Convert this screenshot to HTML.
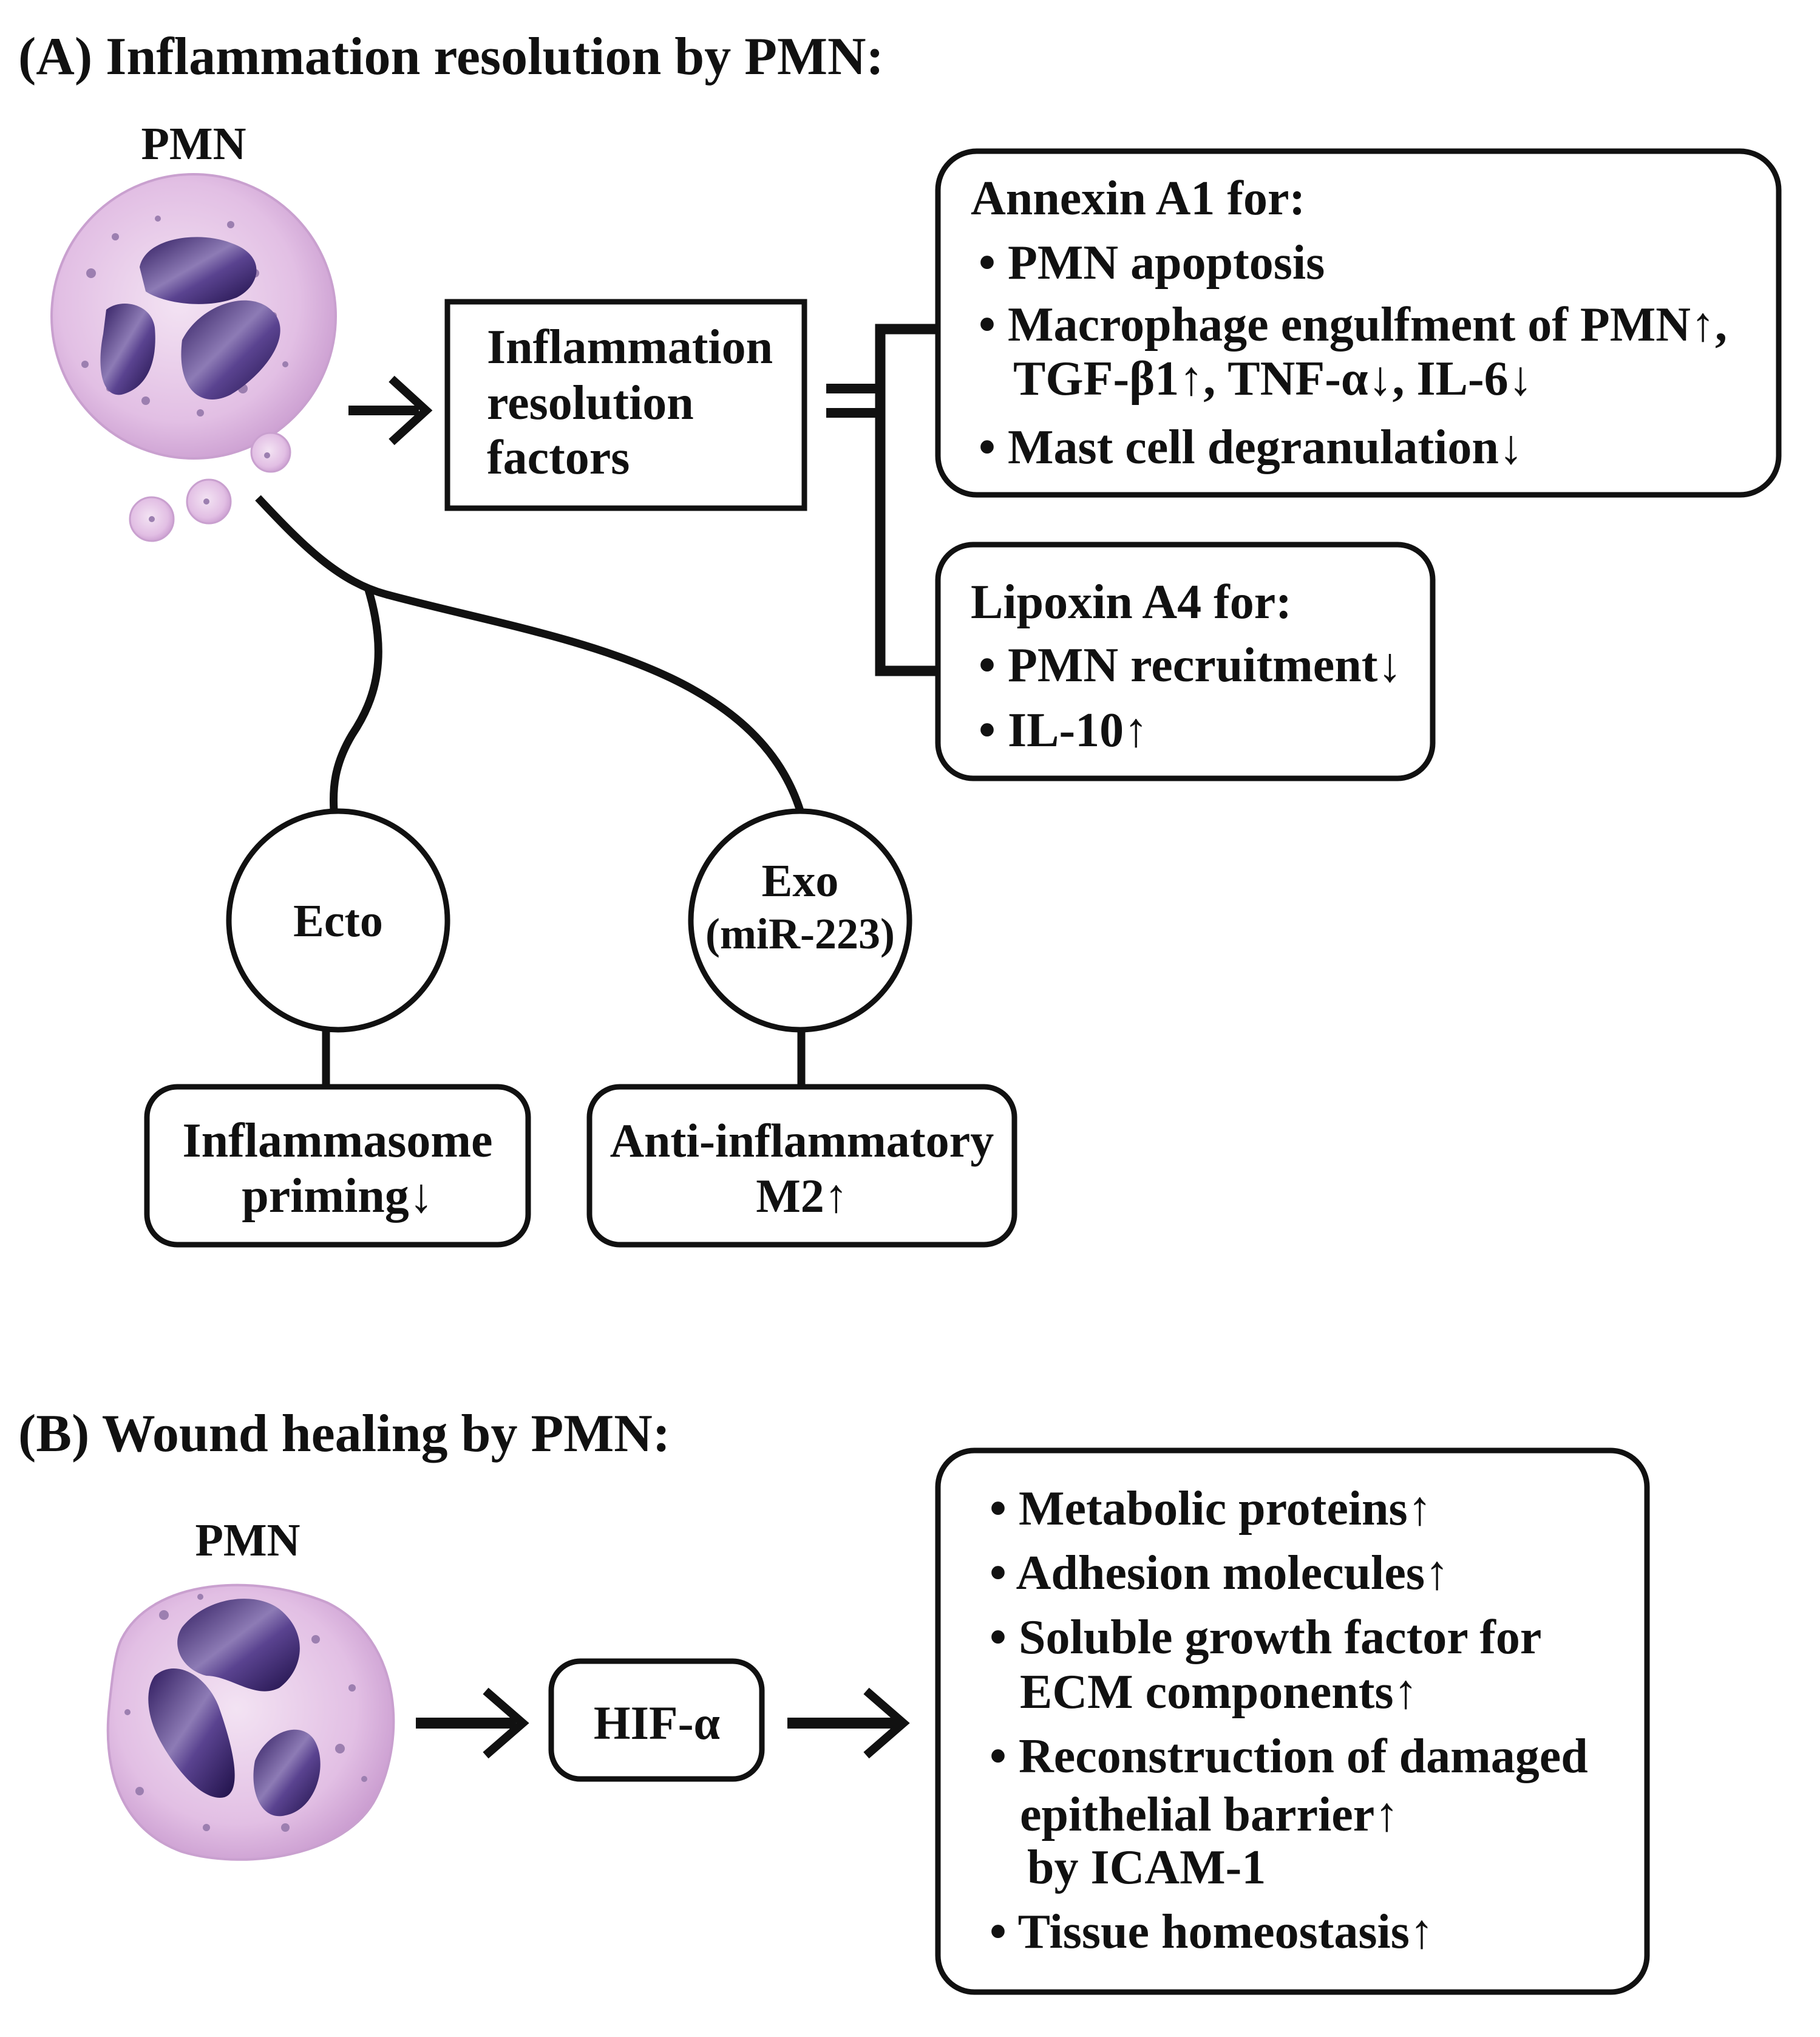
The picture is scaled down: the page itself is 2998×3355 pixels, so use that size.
<!DOCTYPE html>
<html><head><meta charset="utf-8"><style>
html,body{margin:0;padding:0;background:#fff}
svg{display:block}
text{font-family:"Liberation Serif","DejaVu Serif",serif;font-weight:bold;fill:#111}
</style></head><body>
<svg width="2998" height="3355" viewBox="0 0 2998 3355" xmlns="http://www.w3.org/2000/svg">
<defs>
<radialGradient id="cyt" cx="0.45" cy="0.45" r="0.6"><stop offset="0" stop-color="#f3e3f3"/><stop offset="0.7" stop-color="#e2bfe4"/><stop offset="1" stop-color="#c99bcf"/></radialGradient>
<linearGradient id="nuc" x1="0" y1="0" x2="1" y2="1"><stop offset="0" stop-color="#2e1a5e"/><stop offset="0.45" stop-color="#8d7bb5"/><stop offset="0.6" stop-color="#5a4390"/><stop offset="1" stop-color="#1f1048"/></linearGradient>
</defs>
<rect width="2998" height="3355" fill="#fff"/>

<text x="30" y="122" font-size="88">(A) Inflammation resolution by PMN:</text>
<text x="30" y="2390" font-size="88">(B) Wound healing by PMN:</text>

<text x="319" y="262" font-size="76" text-anchor="middle">PMN</text>
<ellipse cx="319" cy="521" rx="234" ry="234" fill="url(#cyt)" stroke="#c9a0cf" stroke-width="4"/>
<circle cx="446" cy="745" r="32" fill="url(#cyt)" stroke="#c9a0cf" stroke-width="3"/>
<circle cx="344" cy="826" r="36" fill="url(#cyt)" stroke="#c9a0cf" stroke-width="3"/>
<circle cx="250" cy="855" r="36" fill="url(#cyt)" stroke="#c9a0cf" stroke-width="3"/>
<g fill="#9c7fb0">
<circle cx="150" cy="450" r="8"/><circle cx="190" cy="390" r="6"/><circle cx="420" cy="450" r="7"/><circle cx="450" cy="520" r="6"/><circle cx="400" cy="640" r="8"/><circle cx="330" cy="680" r="6"/><circle cx="240" cy="660" r="7"/><circle cx="140" cy="600" r="6"/><circle cx="260" cy="360" r="5"/><circle cx="380" cy="370" r="6"/><circle cx="470" cy="600" r="5"/><circle cx="180" cy="640" r="5"/><circle cx="440" cy="750" r="5"/><circle cx="340" cy="826" r="5"/><circle cx="250" cy="855" r="5"/>
</g>
<path d="M230 440 C240 390,330 380,380 400 C440 420,430 470,390 490 C340 510,270 500,240 480 Z" fill="url(#nuc)"/>
<path d="M175 510 C200 490,250 500,255 540 C260 600,240 640,200 650 C165 655,160 600,170 550 Z" fill="url(#nuc)"/>
<path d="M300 560 C330 500,420 470,455 520 C480 560,430 620,380 650 C330 675,290 640,300 560 Z" fill="url(#nuc)"/>

<line x1="574" y1="676" x2="690" y2="676" stroke="#111" stroke-width="16"/>
<polyline points="645,624 702,676 645,728" fill="none" stroke="#111" stroke-width="14"/>

<rect x="737" y="497" width="588" height="340" fill="none" stroke="#111" stroke-width="9"/>
<text font-size="80"><tspan x="802" y="598">Inflammation</tspan><tspan x="802" y="690">resolution</tspan><tspan x="802" y="780">factors</tspan></text>

<line x1="1361" y1="640" x2="1450" y2="640" stroke="#111" stroke-width="16"/>
<line x1="1361" y1="680" x2="1450" y2="680" stroke="#111" stroke-width="16"/>
<polyline points="1541,542 1450,542 1450,1105 1541,1105" fill="none" stroke="#111" stroke-width="17"/>

<rect x="1545" y="249" width="1385" height="566" rx="64" fill="none" stroke="#111" stroke-width="9"/>
<text font-size="80">
<tspan x="1599" y="353">Annexin A1 for:</tspan>
<tspan x="1612" y="459">• PMN apoptosis</tspan>
<tspan x="1612" y="561">• Macrophage engulfment of PMN↑,</tspan>
<tspan x="1669" y="650">TGF-β1↑, TNF-α↓, IL-6↓</tspan>
<tspan x="1612" y="763">• Mast cell degranulation↓</tspan>
</text>

<rect x="1545" y="897" width="815" height="385" rx="58" fill="none" stroke="#111" stroke-width="9"/>
<text font-size="80">
<tspan x="1599" y="1018">Lipoxin A4 for:</tspan>
<tspan x="1612" y="1122">• PMN recruitment↓</tspan>
<tspan x="1612" y="1229">• IL-10↑</tspan>
</text>

<path d="M425 820 C500 900,560 960,640 980 C900 1050,1240 1090,1318 1335" fill="none" stroke="#111" stroke-width="13"/>
<path d="M606 968 C640 1080,620 1150,580 1210 C550 1260,548 1300,550 1335" fill="none" stroke="#111" stroke-width="13"/>

<circle cx="557" cy="1516" r="180" fill="#fff" stroke="#111" stroke-width="9"/>
<text x="557" y="1542" font-size="76" text-anchor="middle">Ecto</text>
<circle cx="1318" cy="1516" r="180" fill="#fff" stroke="#111" stroke-width="9"/>
<text x="1318" y="1476" font-size="76" text-anchor="middle">Exo</text>
<text x="1318" y="1562" font-size="72" text-anchor="middle">(miR-223)</text>
<line x1="537" y1="1696" x2="537" y2="1790" stroke="#111" stroke-width="13"/>
<line x1="1320" y1="1696" x2="1320" y2="1790" stroke="#111" stroke-width="13"/>

<rect x="242" y="1790" width="628" height="260" rx="50" fill="none" stroke="#111" stroke-width="9"/>
<text font-size="80" text-anchor="middle"><tspan x="556" y="1905">Inflammasome</tspan><tspan x="556" y="1996">priming↓</tspan></text>
<rect x="971" y="1790" width="700" height="260" rx="50" fill="none" stroke="#111" stroke-width="9"/>
<text font-size="78" text-anchor="middle"><tspan x="1321" y="1905">Anti-inflammatory</tspan><tspan x="1321" y="1996">M2↑</tspan></text>

<text x="408" y="2562" font-size="76" text-anchor="middle">PMN</text>
<path d="M200 2700 C250 2600,420 2590,540 2640 C660 2700,670 2860,620 2960 C570 3060,400 3080,300 3050 C190 3010,170 2900,180 2810 C185 2760,190 2720,200 2700 Z" fill="url(#cyt)" stroke="#c9a0cf" stroke-width="4"/>
<g fill="#9c7fb0">
<circle cx="270" cy="2660" r="8"/><circle cx="520" cy="2700" r="7"/><circle cx="580" cy="2780" r="6"/><circle cx="560" cy="2880" r="8"/><circle cx="230" cy="2950" r="7"/><circle cx="340" cy="3010" r="6"/><circle cx="470" cy="3010" r="7"/><circle cx="600" cy="2930" r="5"/><circle cx="210" cy="2820" r="5"/><circle cx="330" cy="2630" r="5"/>
</g>
<path d="M300 2680 C340 2630,420 2620,460 2650 C510 2690,500 2750,460 2780 C420 2800,380 2760,340 2760 C300 2750,280 2710,300 2680 Z" fill="url(#nuc)"/>
<path d="M255 2760 C290 2730,340 2760,360 2810 C385 2880,400 2950,370 2960 C330 2970,280 2900,260 2860 C240 2820,240 2780,255 2760 Z" fill="url(#nuc)"/>
<path d="M420 2900 C440 2850,500 2830,520 2870 C540 2910,520 2980,470 2990 C430 3000,410 2950,420 2900 Z" fill="url(#nuc)"/>

<line x1="685" y1="2838" x2="850" y2="2838" stroke="#111" stroke-width="18"/>
<polyline points="800,2785 861,2838 800,2891" fill="none" stroke="#111" stroke-width="14"/>
<rect x="908" y="2736" width="347" height="194" rx="48" fill="none" stroke="#111" stroke-width="9"/>
<text x="1082" y="2864" font-size="78" text-anchor="middle">HIF-α</text>
<line x1="1297" y1="2838" x2="1478" y2="2838" stroke="#111" stroke-width="18"/>
<polyline points="1427,2785 1488,2838 1427,2891" fill="none" stroke="#111" stroke-width="14"/>

<rect x="1545" y="2389" width="1168" height="892" rx="60" fill="none" stroke="#111" stroke-width="9"/>
<text font-size="80">
<tspan x="1630" y="2511">• Metabolic proteins↑</tspan>
<tspan x="1630" y="2617">• Adhesion molecules↑</tspan>
<tspan x="1630" y="2723">• Soluble growth factor for</tspan>
<tspan x="1680" y="2813">ECM components↑</tspan>
<tspan x="1630" y="2919">• Reconstruction of damaged</tspan>
<tspan x="1680" y="3015">epithelial barrier↑</tspan>
<tspan x="1692" y="3102">by ICAM-1</tspan>
<tspan x="1630" y="3208">• Tissue homeostasis↑</tspan>
</text>
</svg>
</body></html>
